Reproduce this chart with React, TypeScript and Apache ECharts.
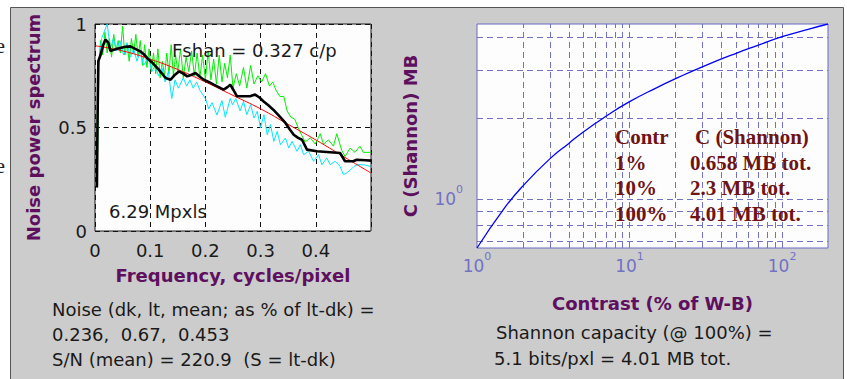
import { useEffect, useRef } from "react";
import * as echarts from "echarts";

// ---------- Left chart: noise power spectrum ----------
const freqTicks = [0, 0.1, 0.2, 0.3, 0.4, 0.5];
const freqTickLabels = ["0", "0.1", "0.2", "0.3", "0.4", ""];

const ltFreq = [0.004, 0.007, 0.01, 0.014, 0.018, 0.022, 0.026, 0.03, 0.034, 0.038, 0.042, 0.046, 0.05, 0.054, 0.058, 0.062, 0.066, 0.07, 0.074, 0.078, 0.082, 0.086, 0.09, 0.094, 0.098, 0.102, 0.106, 0.11, 0.114, 0.118, 0.122, 0.126, 0.13, 0.134, 0.138, 0.142, 0.146, 0.15, 0.155, 0.16, 0.165, 0.17, 0.175, 0.18, 0.185, 0.19, 0.195, 0.2, 0.205, 0.21, 0.215, 0.22, 0.225, 0.23, 0.235, 0.24, 0.245, 0.25, 0.256, 0.262, 0.269, 0.275, 0.282, 0.288, 0.295, 0.302, 0.309, 0.316, 0.322, 0.328, 0.335, 0.342, 0.348, 0.355, 0.362, 0.368, 0.375, 0.381, 0.39, 0.399, 0.408, 0.414, 0.423, 0.432, 0.438, 0.447, 0.453, 0.462, 0.471, 0.48, 0.486, 0.5];
const ltNps = [0.21, 0.8, 0.92, 0.85, 0.96, 0.86, 0.93, 0.84, 0.95, 0.87, 0.92, 0.86, 0.99, 0.85, 0.9, 0.82, 0.93, 0.86, 0.95, 0.84, 0.92, 0.8, 0.9, 0.79, 0.88, 0.77, 0.86, 0.76, 0.88, 0.74, 0.82, 0.75, 0.86, 0.76, 0.9, 0.75, 0.85, 0.77, 0.88, 0.74, 0.84, 0.77, 0.87, 0.75, 0.86, 0.74, 0.85, 0.73, 0.87, 0.73, 0.83, 0.71, 0.85, 0.72, 0.81, 0.74, 0.85, 0.69, 0.76, 0.7, 0.79, 0.69, 0.8, 0.71, 0.75, 0.72, 0.76, 0.7, 0.72, 0.68, 0.65, 0.65, 0.58, 0.55, 0.54, 0.5, 0.46, 0.43, 0.45, 0.42, 0.47, 0.42, 0.44, 0.41, 0.47, 0.39, 0.36, 0.4, 0.38, 0.41, 0.38, 0.38];

const dkFreq = [0.0069, 0.012, 0.022, 0.028, 0.033, 0.039, 0.045, 0.052, 0.058, 0.064, 0.07, 0.076, 0.082, 0.088, 0.097, 0.103, 0.109, 0.115, 0.121, 0.127, 0.133, 0.139, 0.145, 0.151, 0.16, 0.166, 0.172, 0.178, 0.184, 0.19, 0.2, 0.206, 0.212, 0.221, 0.23, 0.236, 0.245, 0.249, 0.255, 0.263, 0.269, 0.275, 0.282, 0.288, 0.294, 0.3, 0.306, 0.312, 0.318, 0.324, 0.33, 0.336, 0.345, 0.351, 0.357, 0.366, 0.372, 0.378, 0.387, 0.396, 0.405, 0.411, 0.42, 0.426, 0.435, 0.444, 0.45, 0.456, 0.463, 0.469, 0.475, 0.487, 0.499];
const dkNps = [0.81, 0.93, 1.0, 0.88, 0.93, 0.87, 0.92, 0.85, 0.91, 0.84, 0.88, 0.82, 0.87, 0.8, 0.84, 0.77, 0.8, 0.75, 0.79, 0.72, 0.77, 0.64, 0.73, 0.69, 0.74, 0.7, 0.73, 0.69, 0.72, 0.68, 0.64, 0.59, 0.62, 0.56, 0.63, 0.55, 0.64, 0.61, 0.64, 0.58, 0.626, 0.562, 0.61, 0.546, 0.578, 0.498, 0.562, 0.465, 0.514, 0.433, 0.481, 0.417, 0.449, 0.401, 0.433, 0.385, 0.417, 0.369, 0.385, 0.337, 0.369, 0.32, 0.353, 0.32, 0.337, 0.312, 0.272, 0.28, 0.296, 0.312, 0.32, 0.32, 0.312];

const meanFreq = [0.0035, 0.0045, 0.006, 0.01, 0.015, 0.019, 0.024, 0.028, 0.034, 0.04, 0.046, 0.055, 0.064, 0.073, 0.082, 0.09, 0.097, 0.105, 0.113, 0.12, 0.128, 0.137, 0.145, 0.152, 0.16, 0.167, 0.175, 0.182, 0.19, 0.197, 0.206, 0.215, 0.224, 0.233, 0.24, 0.245, 0.251, 0.257, 0.27, 0.281, 0.29, 0.298, 0.305, 0.314, 0.323, 0.334, 0.345, 0.353, 0.36, 0.368, 0.375, 0.384, 0.402, 0.42, 0.444, 0.453, 0.468, 0.474, 0.49, 0.5];
const meanNps = [0.21, 0.52, 0.82, 0.85, 0.9, 0.925, 0.91, 0.87, 0.875, 0.88, 0.884, 0.89, 0.892, 0.88, 0.868, 0.85, 0.828, 0.81, 0.787, 0.765, 0.739, 0.731, 0.755, 0.771, 0.76, 0.747, 0.755, 0.763, 0.745, 0.731, 0.72, 0.707, 0.695, 0.683, 0.695, 0.707, 0.68, 0.651, 0.651, 0.651, 0.659, 0.645, 0.627, 0.607, 0.586, 0.555, 0.522, 0.49, 0.465, 0.45, 0.441, 0.393, 0.385, 0.382, 0.377, 0.337, 0.337, 0.344, 0.342, 0.34];

const fitFreq = [0, 0.05, 0.1, 0.15, 0.2, 0.25, 0.3, 0.35, 0.4, 0.45, 0.5];
const fitNps = [0.895, 0.87, 0.83, 0.78, 0.72, 0.655, 0.59, 0.515, 0.44, 0.36, 0.28];

// ---------- Right chart: Shannon capacity ----------
const contrastPct = [1, 1.5, 2, 3, 4, 5, 7, 10, 15, 20, 30, 50, 70, 100, 150, 200];
const capacityMB = [0.658, 0.92, 1.12, 1.41, 1.61, 1.78, 2.03, 2.3, 2.59, 2.8, 3.1, 3.48, 3.73, 4.01, 4.28, 4.47];
const contrastGrid = [2, 3, 4, 5, 6, 7, 8, 9, 10, 20, 30, 40, 50, 60, 70, 80, 90, 100];
const capacityGrid = [0.7, 0.8, 0.9, 1, 2, 3, 4];

const tableContrast = ["1%", "10%", "100%"];
const tableCapacity = ["0.658 MB tot.", "2.3 MB tot.", "4.01 MB tot."];

const noiseText = ["Noise (dk, lt, mean; as % of lt-dk) =", "0.236,  0.67,  0.453", "S/N (mean) = 220.9  (S = lt-dk)"];
const shannonText = ["Shannon capacity (@ 100%) =", "5.1 bits/pxl = 4.01 MB tot."];

const PURPLE = "#5e105e";
const SANS = "DejaVu Sans";
const SERIF = "Liberation Serif";
const MAROON = "#6e1414";
const BLUEAX = "#7272c4";

const pairs = (xs: number[], ys: number[]) => xs.map((x, i) => [x, ys[i]]);

const freqLabel = (v: number) => {
  const i = freqTicks.findIndex((t) => Math.abs(t - v) < 1e-9);
  return i >= 0 ? freqTickLabels[i] : "";
};

const powLabel = (v: number) => {
  const e = Math.round(Math.log10(v));
  if (Math.abs(v - Math.pow(10, e)) > 1e-6 * v) return "";
  return `{b|10}{s|${e}}`;
};
const powRich = {
  b: { fontSize: 17, fontFamily: SANS, color: BLUEAX, lineHeight: 16 },
  s: { fontSize: 11, fontFamily: SANS, color: BLUEAX, lineHeight: 12, padding: [0, 0, 20, 0] },
};

const txt = (text: string, x: number, y: number, font: string, fill: string, align = "left") => ({
  type: "text",
  x,
  y,
  z: 20,
  style: { text, font, fill, align, verticalAlign: "middle", textAlign: align, textVerticalAlign: "middle" },
});

export default function App() {
  const ref = useRef<HTMLDivElement>(null);
  useEffect(() => {
    document.body.style.margin = "0";
    const chart = echarts.init(ref.current!, null, { renderer: "svg", width: 847, height: 379 });
    const option: any = {
      animation: false,
      backgroundColor: "#ffffff",
      grid: [
        { left: 95, top: 24, width: 276, height: 207, show: true, backgroundColor: "#fdfdfd", borderColor: "#1a1a1a", borderWidth: 1 },
        { left: 477, top: 24, width: 351, height: 224, show: true, backgroundColor: "#fdfdfd", borderColor: "#6a6ac2", borderWidth: 1 },
      ],
      xAxis: [
        {
          gridIndex: 0, type: "value", min: freqTicks[0], max: freqTicks[freqTicks.length - 1], interval: 0.1,
          axisLine: { show: false }, axisTick: { show: false },
          axisLabel: { color: "#1a1a1a", fontFamily: SANS, fontSize: 18, margin: 10, formatter: freqLabel },
          splitLine: { show: true, lineStyle: { color: "#111", type: [5, 4], width: 1 } },
          name: "Frequency, cycles/pixel", nameLocation: "middle", nameGap: 35,
          nameTextStyle: { color: PURPLE, fontWeight: "bold", fontFamily: SANS, fontSize: 18 },
        },
        {
          gridIndex: 1, type: "log", logBase: 10, min: 1, max: 200,
          axisLine: { show: false }, axisTick: { show: false }, splitLine: { show: false },
          axisLabel: { formatter: powLabel, rich: powRich, margin: 10 },
          name: "Contrast (% of W-B)", nameLocation: "middle", nameGap: 46,
          nameTextStyle: { color: PURPLE, fontWeight: "bold", fontFamily: SANS, fontSize: 18 },
        },
      ],
      yAxis: [
        {
          gridIndex: 0, type: "value", min: 0, max: 1, interval: 0.5,
          axisLine: { show: false }, axisTick: { show: false },
          axisLabel: { color: "#1a1a1a", fontFamily: SANS, fontSize: 18, margin: 8 },
          splitLine: { show: true, lineStyle: { color: "#111", type: [5, 4], width: 1 } },
          name: "Noise power spectrum", nameLocation: "middle", nameGap: 53,
          nameTextStyle: { color: PURPLE, fontWeight: "bold", fontFamily: SANS, fontSize: 18 },
        },
        {
          gridIndex: 1, type: "log", logBase: 10, min: 0.658, max: 4.47,
          axisLine: { show: false }, axisTick: { show: false }, splitLine: { show: false },
          axisLabel: { formatter: powLabel, rich: powRich, margin: 14 },
          name: "C (Shannon) MB", nameLocation: "middle", nameGap: 58,
          nameTextStyle: { color: PURPLE, fontWeight: "bold", fontFamily: SANS, fontSize: 18 },
        },
      ],
      series: [
        { type: "line", xAxisIndex: 0, yAxisIndex: 0, data: pairs(ltFreq, ltNps), showSymbol: false, symbol: "none", lineStyle: { color: "#00ee00", width: 1 }, silent: true },
        { type: "line", xAxisIndex: 0, yAxisIndex: 0, data: pairs(dkFreq, dkNps), showSymbol: false, symbol: "none", lineStyle: { color: "#00e6ff", width: 1 }, silent: true },
        { type: "line", xAxisIndex: 0, yAxisIndex: 0, data: pairs(fitFreq, fitNps), showSymbol: false, symbol: "none", smooth: true, lineStyle: { color: "#ff0000", width: 1 }, silent: true },
        { type: "line", xAxisIndex: 0, yAxisIndex: 0, data: pairs(meanFreq, meanNps), showSymbol: false, symbol: "none", lineStyle: { color: "#000000", width: 2.6 }, silent: true },
        {
          type: "line", xAxisIndex: 1, yAxisIndex: 1, data: pairs(contrastPct, capacityMB), showSymbol: false, symbol: "none", smooth: true,
          lineStyle: { color: "#0000ff", width: 1.3 }, silent: true, z: 3,
          markLine: {
            silent: true, symbol: "none", z: 1, label: { show: false },
            lineStyle: { color: BLUEAX, type: [6, 4], width: 1 },
            emphasis: { disabled: true },
            data: [...contrastGrid.map((v) => ({ xAxis: v })), ...capacityGrid.map((v) => ({ yAxis: v }))],
          },
        },
      ],
      graphic: [
        { type: "rect", z: -10, shape: { x: 10.5, y: 7.5, width: 833, height: 380 }, style: { fill: "#cccccc", stroke: "#555555", lineWidth: 1 } },
        txt("e", 5, 45, `22px "${SERIF}"`, "#222", "right"),
        txt("e", 5, 165, `22px "${SERIF}"`, "#222", "right"),
        txt("Fshan = 0.327 c/p", 172, 50, `18px "${SANS}"`, "#1a1a1a"),
        txt("6.29 Mpxls", 109, 211, `18px "${SANS}"`, "#1a1a1a"),
        txt(noiseText[0], 52, 309, `18px "${SANS}"`, "#1a1a1a"),
        txt(noiseText[1], 52, 334, `18px "${SANS}"`, "#1a1a1a"),
        txt(noiseText[2], 52, 359, `18px "${SANS}"`, "#1a1a1a"),
        txt(shannonText[0], 496, 332, `18px "${SANS}"`, "#1a1a1a"),
        txt(shannonText[1], 494, 358, `18px "${SANS}"`, "#1a1a1a"),
        txt("Contr", 615, 137, `bold 21px "${SERIF}"`, MAROON),
        txt("C (Shannon)", 695, 137, `bold 21px "${SERIF}"`, MAROON),
        ...tableContrast.map((t, i) => txt(t, 615, 162.5 + i * 25.5, `bold 21px "${SERIF}"`, MAROON)),
        ...tableCapacity.map((t, i) => txt(t, 690, 162.5 + i * 25.5, `bold 21px "${SERIF}"`, MAROON)),
      ],
    };
    chart.setOption(option);
    return () => chart.dispose();
  }, []);
  return <div ref={ref} style={{ position: "fixed", left: 0, top: 0, width: 847, height: 379, background: "#fff" }} />;
}
